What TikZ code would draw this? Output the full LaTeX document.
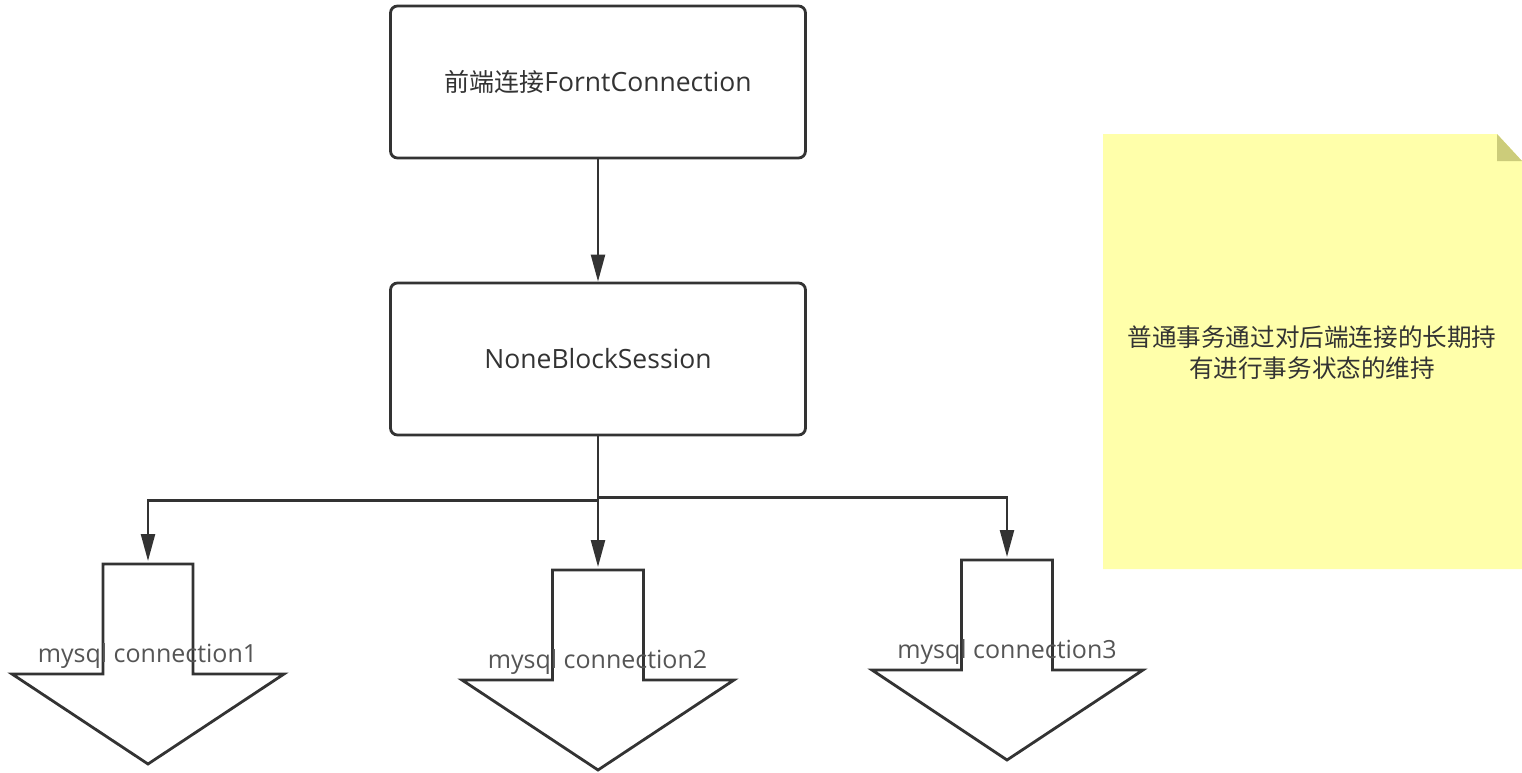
\documentclass[tikz,border=0pt]{standalone}
\usepackage{fontspec}
\setmainfont{Open Sans}
\newfontfamily\cjk{Noto Sans CJK SC}
\usetikzlibrary{arrows.meta}
\definecolor{ink}{HTML}{333333}
\definecolor{lblgray}{HTML}{555555}
\definecolor{notefill}{HTML}{FFFFAA}
\definecolor{foldfill}{HTML}{CCCC7A}
\begin{document}
\begin{tikzpicture}[x=1pt,y=-1pt,
  procbox/.style={draw=ink, line width=2.8pt, rounded corners=7pt, minimum width=415pt,
    minimum height=152pt, inner sep=0pt, fill=white, text=ink,
    font=\fontsize{26.5}{30}\selectfont},
  conn/.style={draw=ink, line width=2.4pt, -{Triangle[length=27pt,width=14pt]}},
  blockarrow/.style={draw=ink, line width=2.8pt, fill=white, line join=miter},
  lbl/.style={text=lblgray, font=\fontsize{25}{30}\selectfont, inner sep=0pt, anchor=base},
  notetext/.style={text=ink, align=center, inner sep=0pt,
    font=\cjk\fontsize{24.6}{31}\selectfont}]
\useasboundingbox (0,0) rectangle (1522,773);

% note
\fill[notefill] (1103,134) -- (1497,134) -- (1522,161) -- (1522,569) -- (1103,569) -- cycle;
\fill[foldfill] (1497,134) -- (1522,161) -- (1497,161) -- cycle;
\node[notetext] (note) at (1312,352.5) {普通事务通过对后端连接的长期持\\有进行事务状态的维持};

% boxes
\node[procbox] (front) at (598,82) {{\cjk\fontsize{25}{30}\selectfont 前端连接}ForntConnection};
\node[procbox] (nbs) at (598,359) {NoneBlockSession};

% block arrows
\draw[blockarrow] (103,564) -- (193,564) -- (193,674) -- (284,674) -- (148,764) -- (12,674) -- (103,674) -- cycle;
\draw[blockarrow] (552.5,570) -- (643.5,570) -- (643.5,680) -- (734,680) -- (598,770) -- (462,680) -- (552.5,680) -- cycle;
\draw[blockarrow] (961.5,560) -- (1052.5,560) -- (1052.5,670) -- (1143,670) -- (1007,760) -- (872,670) -- (961.5,670) -- cycle;
\coordinate (c1) at (148,561);
\coordinate (c2) at (598,567);
\coordinate (c3) at (1007,557);

% labels
\node[lbl] (l1) at (147.5,662) {mysql connection1};
\node[lbl] (l2) at (597.5,668) {mysql connection2};
\node[lbl] (l3) at (1007,658) {mysql connection3};

% connectors
\draw[conn] (front.south) -- (nbs.north);
\draw[conn] (nbs.south) -- (c2);
\draw[conn] (nbs.south) -- ++(0,64) -| (c1);
\draw[conn] (nbs.south) -- ++(0,61) -| (c3);
\end{tikzpicture}
\end{document}
